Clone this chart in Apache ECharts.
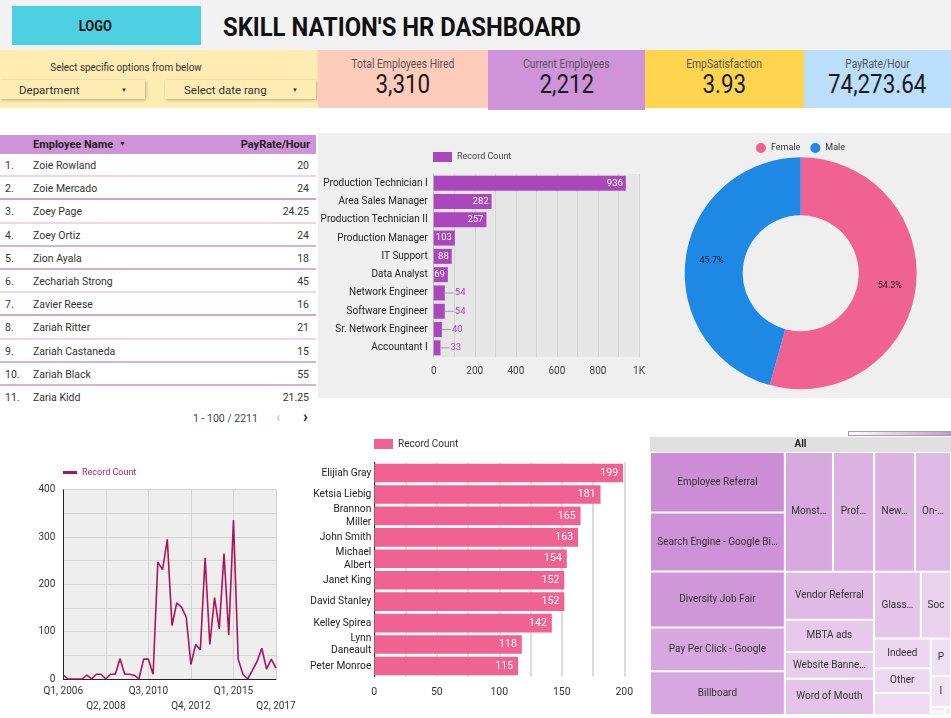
<!DOCTYPE html>
<html>
<head>
<meta charset="utf-8">
<script src="https://cdn.jsdelivr.net/npm/echarts/dist/echarts.min.js"></script>
<style>
  html, body { margin:0; padding:0; }
  body { width:951px; height:718px; position:relative; overflow:hidden; background:#ffffff; font-family: Roboto, "Noto Sans", sans-serif; color:#222; }
  .abs { position:absolute; box-sizing:border-box; }
  .cond { display:inline-block; transform:scaleX(0.86); transform-origin:center; white-space:nowrap; }
  .card { text-align:center; }
  .card .lbl { position:absolute; left:0; right:0; top:7px; font-size:12px; color:#555; }
  .card .val { position:absolute; left:0; right:0; top:19px; font-size:26px; color:#1a1a1a; }
  .dd { background:#ffecb3; box-shadow: 1px 1px 3px rgba(0,0,0,0.28); font-size:11.5px; color:#333; }
  .dd span { position:absolute; top:3px; }
  .row { position:absolute; left:0; width:316px; height:23.2px; font-size:10.5px; color:#333; }
  .row .n { position:absolute; left:5px; top:5px; }
  .row .nm { position:absolute; left:33px; top:5px; }
  .row .v { position:absolute; right:7px; top:5px; }
</style>
</head>
<body>
<div id="page"></div>
<script>
// ---------- DATA ----------
const kpiLabels = ['Total Employees Hired', 'Current Employees', 'EmpSatisfaction', 'PayRate/Hour'];
const kpiValues = ['3,310', '2,212', '3.93', '74,273.64'];

const empNames = ['Zoie Rowland','Zoie Mercado','Zoey Page','Zoey Ortiz','Zion Ayala','Zechariah Strong','Zavier Reese','Zariah Ritter','Zariah Castaneda','Zariah Black','Zaria Kidd'];
const empPay = [20, 24, 24.25, 24, 18, 45, 16, 21, 15, 55, 21.25];

const jobTitles = ['Production Technician I','Area Sales Manager','Production Technician II','Production Manager','IT Support','Data Analyst','Network Engineer','Software Engineer','Sr. Network Engineer','Accountant I'];
const jobCounts = [936, 282, 257, 103, 88, 69, 54, 54, 40, 33];

const genders = ['Female', 'Male'];
const genderShare = [54.3, 45.7];

const quarters = ['Q1, 2006','Q2, 2006','Q3, 2006','Q4, 2006','Q1, 2007','Q2, 2007','Q3, 2007','Q4, 2007',
  'Q1, 2008','Q2, 2008','Q3, 2008','Q4, 2008','Q1, 2009','Q2, 2009','Q3, 2009','Q4, 2009',
  'Q1, 2010','Q2, 2010','Q3, 2010','Q4, 2010','Q1, 2011','Q2, 2011','Q3, 2011','Q4, 2011',
  'Q1, 2012','Q2, 2012','Q3, 2012','Q4, 2012','Q1, 2013','Q2, 2013','Q3, 2013','Q4, 2013',
  'Q1, 2014','Q2, 2014','Q3, 2014','Q4, 2014','Q1, 2015','Q2, 2015','Q3, 2015','Q4, 2015',
  'Q1, 2016','Q2, 2016','Q3, 2016','Q4, 2016','Q1, 2017','Q2, 2017'];
const hiresPerQuarter = [8,0,0,0,0,8,0,10,10,0,10,10,43,10,10,8,0,42,42,10,
  247,231,295,113,161,152,131,31,73,62,256,73,172,106,265,93,336,42,10,0,
  18,37,65,21,42,23];

const managerNames = ['Elijiah Gray','Ketsia Liebig','Brannon\nMiller','John Smith','Michael\nAlbert','Janet King','David Stanley','Kelley Spirea','Lynn\nDaneault','Peter Monroe'];
const managerCounts = [199, 181, 165, 163, 154, 152, 152, 142, 118, 115];

const sourceNames = ['Employee Referral','Search Engine - Google Bing Yahoo','Diversity Job Fair','Pay Per Click - Google','Billboard',
  'Monster.com','Professional Society','Newspager/Magazine','On-campus Recruiting',
  'Vendor Referral','MBTA ads','Website Banner Ads','Word of Mouth','Glassdoor',
  'Social Networks - Facebook Twitter etc','Indeed','Other','Internet Search','Pay Per Click','Information Session',
  'Careerbuilder','Company Intranet - Partner','On-line Web application'];
const sourceCounts = [341, 333, 315, 247, 246, 241, 206, 205, 180, 178, 120, 100, 135, 131, 84, 70, 59, 52, 32, 26, 3, 2, 2];

// ---------- STATIC LAYOUT (HTML) ----------
const page = document.getElementById('page');
function el(tag, cls, css, html) {
  const d = document.createElement(tag);
  if (cls) d.className = cls;
  if (css) d.style.cssText = css;
  if (html !== undefined) d.innerHTML = html;
  page.appendChild(d);
  return d;
}
// header band
el('div', 'abs', 'left:0;top:0;width:951px;height:50px;background:#f2f2f2;');
el('div', 'abs', 'left:12px;top:6px;width:189px;height:39px;background:#4dd0e1;');
el('div', 'abs', 'left:60px;top:6px;width:70px;height:39px;text-align:center;line-height:41px;font-size:15px;font-weight:700;color:#111;', '<span class="cond">LOGO</span>');
el('div', 'abs', 'left:223px;top:8px;height:38px;line-height:38px;font-size:26px;font-weight:700;color:#111;',
   '<span style="display:inline-block;transform:scaleX(0.915);transform-origin:left;white-space:nowrap;">SKILL NATION\'S HR DASHBOARD</span>');

// filter panel
el('div', 'abs', 'left:0;top:50px;width:318px;height:58px;background:#ffecb3;');
el('div', 'abs', 'left:0;top:60px;width:252px;text-align:center;font-size:11.5px;color:#333;', '<span class="cond">Select specific options from below</span>');
const dd1 = el('div', 'abs dd', 'left:0;top:80px;width:145px;height:19px;');
dd1.innerHTML = '<span style="left:19px;">Department</span><span style="left:121px;font-size:6px;top:6px;">&#9660;</span>';
const dd2 = el('div', 'abs dd', 'left:165px;top:80px;width:151px;height:19px;');
dd2.innerHTML = '<span style="left:19px;">Select date rang</span><span style="left:127px;font-size:6px;top:6px;">&#9660;</span>';

// KPI cards
const cardGeom = [[318,170,58,'#ffccbc'],[488,157,60,'#ce93d8'],[645,159,58,'#ffd54f'],[804,147,58,'#bbdefb']];
kpiLabels.forEach((lab, i) => {
  const g = cardGeom[i];
  const c = el('div', 'abs card', `left:${g[0]}px;top:50px;width:${g[1]}px;height:${g[2]}px;background:${g[3]};`);
  c.innerHTML = `<div class="lbl"><span class="cond">${lab}</span></div><div class="val"><span class="cond">${kpiValues[i]}</span></div>`;
});

// gray panel behind bar chart + pie
el('div', 'abs', 'left:318px;top:133px;width:633px;height:265px;background:#efefef;');

// table
el('div', 'abs', 'left:0;top:135px;width:316px;height:19px;background:#ce93d8;font-size:11px;font-weight:700;color:#222;',
  '<span style="position:absolute;left:33px;top:3px;">Employee Name <span style="font-size:7px;vertical-align:2px;margin-left:3px;">&#9660;</span></span><span style="position:absolute;right:6px;top:3px;">PayRate/Hour</span>');
const sepColors = ['#f7d3e2','#d7a2c2','#f7d3e2','#dcb0cb','#dcb0cb','#f7d3e2','#d7a2c2','#f7d3e2','#dcb0cb','#dcb0cb'];
empNames.forEach((nm, i) => {
  const top = 154 + i * 23.2;
  const border = i < empNames.length - 1 ? `border-bottom:2px solid ${sepColors[i]};` : '';
  const r = el('div', 'row', `top:${top}px;${border}box-sizing:border-box;`);
  r.innerHTML = `<span class="n">${i + 1}.</span><span class="nm">${nm}</span><span class="v">${empPay[i]}</span>`;
});
el('div', 'abs', 'left:193px;top:412px;font-size:10.5px;color:#444;', '1 - 100 / 2211');
el('div', 'abs', 'left:276px;top:408px;font-size:15px;color:#bbb;', '&#8249;');
el('div', 'abs', 'left:303px;top:407px;font-size:16px;color:#222;font-weight:700;', '&#8250;');

// treemap gradient legend bar
el('div', 'abs', 'left:848px;top:431px;width:103px;height:5px;border:1px solid #a0a0a0;background:linear-gradient(to right,#ffffff,#ce93d8);');

// chart containers
function box(l, t, w, h) { return el('div', 'abs', `left:${l}px;top:${t}px;width:${w}px;height:${h}px;`); }
const cBar1 = box(318, 133, 332, 265);
const cPie  = box(650, 133, 301, 265);
const cLine = box(0, 455, 310, 263);
const cBar2 = box(300, 430, 350, 288);
const cTree = box(650, 437, 301, 278);

const FONT = 'Roboto';

// ---------- BAR 1: job titles ----------
const insideLbl = { show:true, position:'insideRight', color:'#fff', fontSize:9.5, fontFamily:FONT, distance:3 };
const outsideLbl = { show:true, position:'right', distance:0, formatter:'{l|}{v|{c}}',
  rich:{ l:{ width:9, height:1, backgroundColor:'#9e9e9e' }, v:{ color:'#ab47bc', fontSize:9.5, fontFamily:FONT, padding:[0,0,0,1] } } };
echarts.init(cBar1).setOption({
  animation:false,
  textStyle:{ fontFamily:FONT },
  legend:{ data:['Record Count'], left:110, top:14, icon:'rect', itemWidth:19, itemHeight:10, itemGap:4,
    textStyle:{ fontSize:9, color:'#444', fontFamily:FONT } },
  grid:{ left:115.7, right:11, top:41, bottom:41, show:true, backgroundColor:'#e6e6e6', borderWidth:0, outerBoundsMode:'none' },
  xAxis:{ type:'value', min:0, max:1000, interval:200,
    axisLabel:{ formatter:v => v >= 1000 ? '1K' : String(v), fontSize:10, color:'#444', margin:9 },
    axisLine:{ show:false }, axisTick:{ show:false },
    splitLine:{ lineStyle:{ color:'#d4d4d4' } },
    minorTick:{ show:false, splitNumber:2 }, minorSplitLine:{ show:true, lineStyle:{ color:'#d4d4d4' } } },
  yAxis:{ type:'category', inverse:true, data:jobTitles,
    axisLine:{ show:true, lineStyle:{ color:'#c4c4c4' } }, axisTick:{ show:false },
    axisLabel:{ fontSize:10, color:'#222', margin:6 } },
  series:[{ name:'Record Count', type:'bar', barCategoryGap:'18%', itemStyle:{ color:'#ab47bc' },
    data: jobCounts.map(v => ({ value:v, label: v < 60 ? outsideLbl : insideLbl })) }]
});

// ---------- PIE: gender ----------
echarts.init(cPie).setOption({
  animation:false,
  textStyle:{ fontFamily:FONT },
  legend:{ data:genders, left:'center', top:5, icon:'circle', itemWidth:10, itemHeight:10, itemGap:10,
    textStyle:{ fontSize:9, color:'#333', fontFamily:FONT } },
  series:[{ type:'pie', center:[150.7, 140.3], radius:[58, 116], startAngle:90, clockwise:true,
    label:{ show:true, position:'inside', formatter:'{d}%', fontSize:9, color:'#222', fontFamily:FONT },
    labelLine:{ show:false },
    data: genders.map((g, i) => ({ name:g, value:genderShare[i], itemStyle:{ color: i === 0 ? '#f06292' : '#1e88e5' } })) }]
});

// ---------- LINE: hires per quarter ----------
echarts.init(cLine).setOption({
  animation:false,
  textStyle:{ fontFamily:FONT },
  legend:{ data:['Record Count'], left:58, top:8, icon:'rect', itemWidth:14, itemHeight:3, itemGap:4,
    textStyle:{ fontSize:9, color:'#c2185b', fontFamily:FONT } },
  grid:{ left:63.3, right:34, top:34.7, bottom:39, show:true, backgroundColor:'#eeeeee', borderWidth:0, outerBoundsMode:'none' },
  xAxis:{ type:'category', data:quarters, boundaryGap:false,
    axisLine:{ lineStyle:{ color:'#222' } }, axisTick:{ show:false },
    axisLabel:{ interval:8, fontSize:10, color:'#333', margin:5, lineHeight:15,
      formatter:(v, idx) => (Math.round(idx / 9) % 2 === 1 ? '\n' + v : v) },
    splitLine:{ show:true, interval:8, lineStyle:{ color:'#d4d4d4' } } },
  yAxis:{ type:'value', min:0, max:400, interval:100,
    axisLine:{ show:true, lineStyle:{ color:'#222' } }, axisTick:{ show:false },
    axisLabel:{ fontSize:10, color:'#333', margin:8 },
    splitLine:{ lineStyle:{ color:'#d4d4d4' } },
    minorTick:{ show:false, splitNumber:2 }, minorSplitLine:{ show:true, lineStyle:{ color:'#d4d4d4' } } },
  series:[{ name:'Record Count', type:'line', data:hiresPerQuarter, symbol:'none',
    lineStyle:{ color:'#ad1457', width:1.6 }, itemStyle:{ color:'#ad1457' } }]
});

// ---------- BAR 2: managers ----------
echarts.init(cBar2).setOption({
  animation:false,
  textStyle:{ fontFamily:FONT },
  legend:{ data:['Record Count'], left:69, top:4, icon:'rect', itemWidth:19, itemHeight:10, itemGap:4,
    textStyle:{ fontSize:10, color:'#333', fontFamily:FONT } },
  grid:{ left:74.3, right:25.7, top:32.3, bottom:41.3, outerBoundsMode:'none' },
  xAxis:{ type:'value', min:0, max:200, interval:50,
    axisLabel:{ fontSize:10.5, color:'#333', margin:10 },
    axisLine:{ show:false }, axisTick:{ show:false },
    splitLine:{ lineStyle:{ color:'#d0d0d0', width:1.5 } },
    minorTick:{ show:false, splitNumber:2 }, minorSplitLine:{ show:true, lineStyle:{ color:'#d0d0d0', width:1.5 } } },
  yAxis:{ type:'category', inverse:true, data:managerNames,
    axisLine:{ show:true, lineStyle:{ color:'#222' } }, axisTick:{ show:false },
    axisLabel:{ fontSize:10.2, color:'#222', margin:3, lineHeight:12.5 } },
  series:[{ name:'Record Count', type:'bar', barCategoryGap:'13%', itemStyle:{ color:'#f06292' },
    label:{ show:true, position:'insideRight', color:'#fff', fontSize:10.5, distance:5, fontFamily:FONT },
    data:managerCounts }]
});

// ---------- TREEMAP: recruitment sources ----------
echarts.init(cTree).setOption({
  animation:false,
  textStyle:{ fontFamily:FONT },
  series:[{ type:'treemap', left:0, top:0, width:301, height:278, roam:false, nodeClick:false,
    breadcrumb:{ show:false }, sort:false, squareRatio:2.4,
    data:[{ name:'All', children: sourceNames.map((n, i) => ({ name:n, value:sourceCounts[i] })) }],
    levels:[
      { itemStyle:{ borderWidth:0, gapWidth:0 } },
      { itemStyle:{ borderColor:'#e0e0e0', borderWidth:0, gapWidth:0 },
        color:['#f4e8f6', '#cc8fd6'], colorMappingBy:'value',
        upperLabel:{ show:true, height:15, position:'inside', color:'#222', fontSize:10, fontWeight:'bold', fontFamily:FONT } },
      { itemStyle:{ borderColor:'#ffffff', borderWidth:1, gapWidth:0 },
        label:{ show:true, position:'inside', align:'center', verticalAlign:'middle', fontSize:10, color:'#333',
          fontFamily:FONT, overflow:'truncate', ellipsis:'…' } }
    ] }]
});
</script>
</body>
</html>
